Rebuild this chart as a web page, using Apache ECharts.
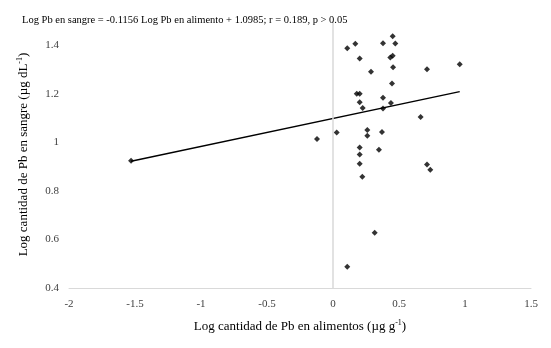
<!DOCTYPE html>
<html>
<head>
<meta charset="utf-8">
<script src="https://cdn.jsdelivr.net/npm/echarts@6/dist/echarts.min.js"></script>
<style>
  html, body { margin: 0; padding: 0; background: #fff; }
  #chart { width: 551px; height: 348px; }
</style>
</head>
<body>
<div id="chart"></div>
<script>
// log Pb in food (x) vs log Pb in blood (y)
const foodLog = [
  0.452, 0.169, 0.379, 0.472, 0.108, 0.202, 0.434, 0.452, 0.288, 0.455,
  0.712, 0.960, 0.447, 0.180, 0.202, 0.202, 0.379, 0.439, 0.225, 0.379,
  0.664, 0.028, 0.260, 0.260, 0.371, -0.121, 0.202, 0.202, 0.348, 0.202,
  0.222, 0.712, 0.737, 0.316, 0.108, -1.530
];
const bloodLog = [
  1.437, 1.406, 1.408, 1.407, 1.388, 1.345, 1.350, 1.357, 1.291, 1.309,
  1.301, 1.322, 1.243, 1.200, 1.200, 1.165, 1.184, 1.162, 1.142, 1.139,
  1.104, 1.041, 1.051, 1.027, 1.043, 1.014, 0.979, 0.950, 0.970, 0.912,
  0.858, 0.909, 0.887, 0.628, 0.488, 0.924
];
// trend line end points as drawn
const trendX = [-1.53, 0.96];
const trendY = [0.922, 1.209];

const eqText = 'Log Pb en sangre = -0.1156 Log Pb en alimento + 1.0985; r = 0.189, p > 0.05';

const points = foodLog.map((x, i) => [x, bloodLog[i]]);
const trend = trendX.map((x, i) => [x, trendY[i]]);

const font = '"Liberation Serif", "Times New Roman", serif';

const chart = echarts.init(document.getElementById('chart'));
chart.setOption({
  backgroundColor: '#fff',
  animation: false,
  textStyle: { fontFamily: font },
  title: {
    text: eqText,
    left: 17,
    top: 10,
    textStyle: { fontFamily: font, fontSize: 10.5, fontWeight: 'normal', color: '#000' }
  },
  grid: { left: 69, right: 20, top: 21, bottom: 60 },
  xAxis: {
    type: 'value',
    min: -2, max: 1.5, interval: 0.5,
    splitLine: { show: false },
    axisTick: { show: false },
    axisLine: { onZero: false, lineStyle: { color: '#d9d9d9', width: 1 } },
    axisLabel: { color: '#404040', fontSize: 11, margin: 11 },
    name: '{n|Log cantidad de Pb en alimentos (µg g}{s|-1}{n|)}',
    nameLocation: 'middle',
    nameGap: 31,
    nameTextStyle: {
      rich: {
        n: { fontFamily: font, fontSize: 13, color: '#000', lineHeight: 16 },
        s: { fontFamily: font, fontSize: 8, color: '#000', verticalAlign: 'top', lineHeight: 16 }
      }
    }
  },
  yAxis: {
    type: 'value',
    min: 0.4, max: 1.5, interval: 0.2,
    splitLine: { show: false },
    axisTick: { show: false },
    axisLine: { show: false },
    axisLabel: {
      color: '#404040', fontSize: 11, margin: 10,
      formatter: v => (v > 1.45 ? '' : String(+v.toFixed(1)))
    },
    name: '{n|Log cantidad de Pb en sangre (µg dL}{s|-1}{n|)}',
    nameLocation: 'middle',
    nameGap: 37,
    nameRotate: 90,
    nameTextStyle: {
      rich: {
        n: { fontFamily: font, fontSize: 13, color: '#000', lineHeight: 16 },
        s: { fontFamily: font, fontSize: 8, color: '#000', verticalAlign: 'top', lineHeight: 16 }
      }
    }
  },
  series: [
    {
      type: 'line',
      data: trend,
      showSymbol: false,
      lineStyle: { color: '#000', width: 1.5 },
      silent: true,
      markLine: {
        silent: true,
        symbol: ['none', 'none'],
        label: { show: false },
        lineStyle: { color: '#d9d9d9', width: 1.5, type: 'solid' },
        data: [{ xAxis: 0 }]
      }
    },
    {
      type: 'scatter',
      data: points,
      symbol: 'diamond',
      symbolSize: 6,
      itemStyle: { color: '#000' }
    }
  ]
});
</script>
</body>
</html>
